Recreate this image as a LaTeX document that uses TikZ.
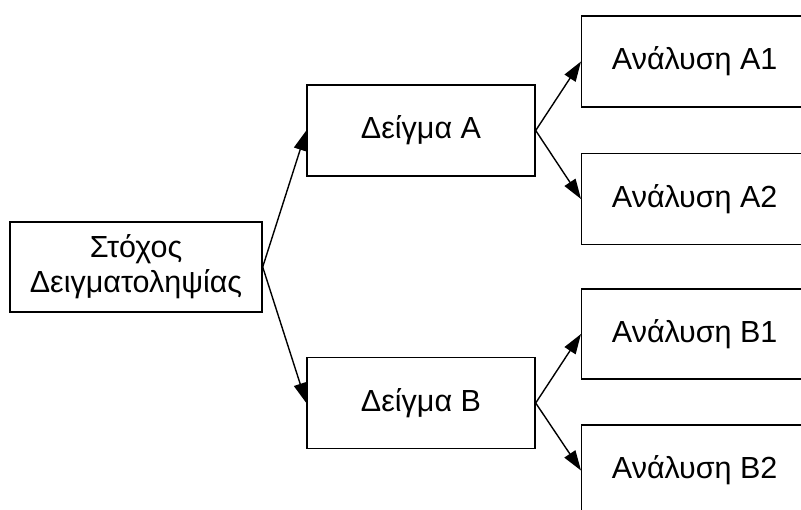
\documentclass[tikz,border=0pt]{standalone}
\usepackage{fontspec}
\setmainfont{Liberation Sans}
\usetikzlibrary{arrows.meta}
\begin{document}
\begin{tikzpicture}[x=1pt,y=-1pt,
  box/.style={draw, line width=1.4pt, rectangle, inner sep=0pt,
    font=\fontsize{30.5}{35}\selectfont, align=center},
  link/.style={line width=1.4pt, -{Triangle[length=20pt,width=13pt]}}]
  \useasboundingbox (0,0) rectangle (801,510);
  \clip (0,0) rectangle (801,510);
  % root
  \node[box, minimum width=252pt, minimum height=90pt] (root) at (136,267)
    {Στόχος\\Δειγματοληψίας};
  % samples
  \node[box, minimum width=228pt, minimum height=91pt] (sa) at (421,130.5) {Δείγμα A};
  \node[box, minimum width=228pt, minimum height=91pt] (sb) at (421,403) {Δείγμα B};
  % analyses
  \node[box, minimum width=226pt, minimum height=91pt, anchor=west] (a1) at (581,61.5) {Ανάλυση A1};
  \node[box, minimum width=226pt, minimum height=91pt, anchor=west] (a2) at (581,199) {Ανάλυση A2};
  \node[box, minimum width=226pt, minimum height=90pt, anchor=west] (b1) at (581,334) {Ανάλυση B1};
  \node[box, minimum width=226pt, minimum height=91pt, anchor=west] (b2) at (581,470.5) {Ανάλυση B2};
  % connectors
  \draw[link] (root.east) -- (sa.west);
  \draw[link] (root.east) -- (sb.west);
  \draw[link] (sa.east) -- (a1.west);
  \draw[link] (sa.east) -- (a2.west);
  \draw[link] (sb.east) -- (b1.west);
  \draw[link] (sb.east) -- (b2.west);
\end{tikzpicture}
\end{document}
